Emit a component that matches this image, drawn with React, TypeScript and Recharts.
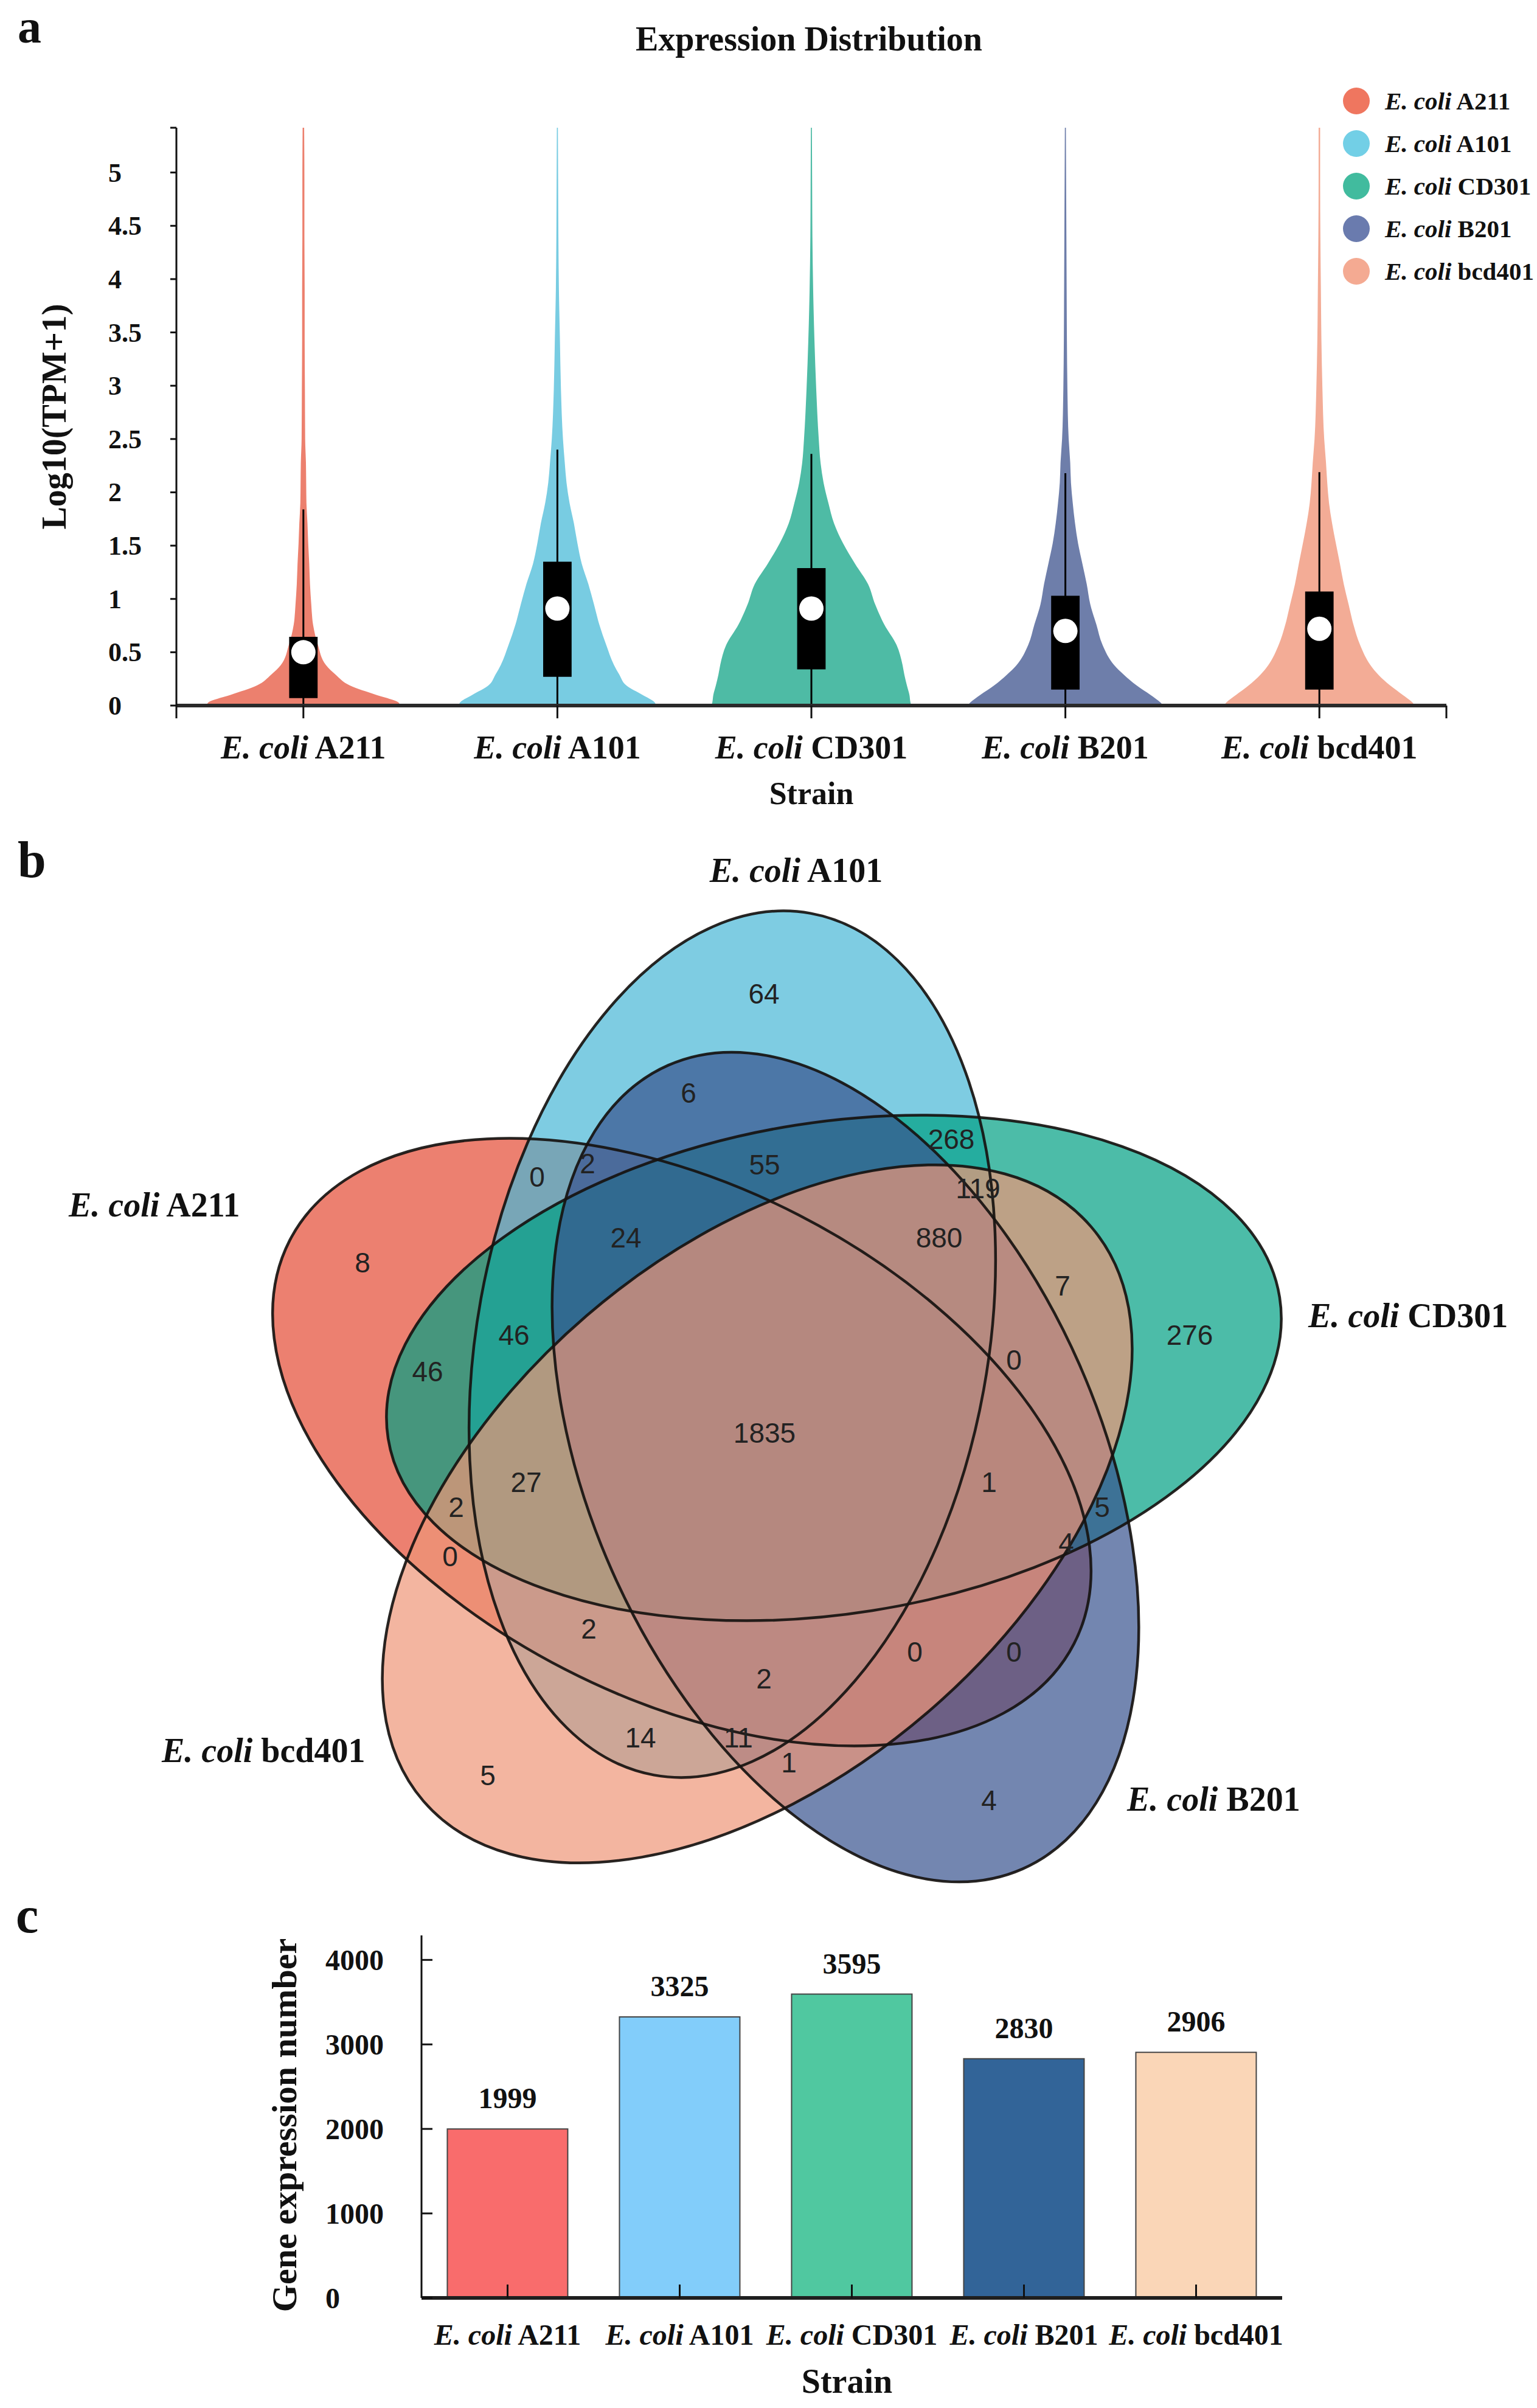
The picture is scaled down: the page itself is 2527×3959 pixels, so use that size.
import React from "react";
import {
  ComposedChart,
  Area,
  XAxis,
  YAxis,
  ReferenceArea,
  ReferenceLine,
  ReferenceDot,
  Legend,
  ScatterChart,
  Scatter,
  BarChart,
  Bar,
  Cell,
  LabelList,
} from "recharts";

const SERIF = "'Liberation Serif', 'Times New Roman', serif";
const SANS = "'Liberation Sans', Arial, sans-serif";
const INK = "#111";

const STRAINS = ["A211", "A101", "CD301", "B201", "bcd401"];

// a: violin half-width (in category units) at each Log10(TPM+1) level
const LEVELS = [0, 0.03, 0.1, 0.19, 0.29, 0.38, 0.57, 0.76, 0.95, 1.14, 1.33, 1.52, 1.71, 1.9, 2.09, 2.28, 2.5, 2.97, 3.43, 3.9, 4.4, 4.9, 5.42];
const DENS_A211 = [0.381, 0.374, 0.287, 0.182, 0.127, 0.089, 0.057, 0.038, 0.031, 0.026, 0.023, 0.019, 0.016, 0.012, 0.011, 0.01, 0.007, 0.006, 0.005, 0.005, 0.004, 0.004, 0.003];
const DENS_A101 = [0.388, 0.383, 0.335, 0.271, 0.244, 0.223, 0.192, 0.165, 0.144, 0.122, 0.096, 0.079, 0.065, 0.048, 0.036, 0.029, 0.022, 0.014, 0.01, 0.006, 0.004, 0.003, 0.002];
const DENS_CD301 = [0.393, 0.39, 0.386, 0.376, 0.366, 0.359, 0.335, 0.287, 0.251, 0.223, 0.172, 0.125, 0.089, 0.067, 0.048, 0.036, 0.029, 0.019, 0.012, 0.007, 0.004, 0.003, 0.002];
const DENS_B201 = [0.386, 0.374, 0.335, 0.28, 0.23, 0.192, 0.146, 0.122, 0.098, 0.084, 0.067, 0.05, 0.038, 0.029, 0.022, 0.019, 0.013, 0.008, 0.006, 0.005, 0.004, 0.003, 0.002];
const DENS_BCD401 = [0.376, 0.366, 0.328, 0.278, 0.232, 0.201, 0.16, 0.134, 0.115, 0.096, 0.081, 0.065, 0.05, 0.038, 0.031, 0.026, 0.019, 0.012, 0.008, 0.006, 0.004, 0.003, 0.003];

// a: box plot stats
const WHISKER_LO = [0, 0, 0, 0, 0];
const WHISKER_HI = [1.84, 2.4, 2.36, 2.18, 2.19];
const Q1 = [0.07, 0.27, 0.34, 0.15, 0.15];
const Q3 = [0.645, 1.35, 1.29, 1.03, 1.07];
const MEDIAN = [0.5, 0.91, 0.91, 0.7, 0.72];
const Y_TICKS_A = [0, 0.5, 1, 1.5, 2, 2.5, 3, 3.5, 4, 4.5, 5, 5.42];
const X_TICKS_A = [0, 0.5, 1.5, 2.5, 3.5, 4.5, 5];

// b: venn region counts
const VENN_COUNTS = [64, 6, 0, 2, 55, 268, 119, 24, 880, 8, 7, 46, 276, 0, 46, 1835, 27, 1, 2, 5, 4, 0, 2, 0, 0, 2, 14, 11, 1, 5, 4];

// c: expressed genes
const GENE_COUNTS = [1999, 3325, 3595, 2830, 2906];
const Y_TICKS_C = [0, 1000, 2000, 3000, 4000];

// colours
const VIOLIN_COLORS = ["#ec806e", "#78cce2", "#4ebba5", "#6e7eaa", "#f3ac96"];
const LEGEND_COLORS = ["#ef765f", "#72cfe6", "#41bb9e", "#6a7bae", "#f4aa92"];
const VENN_COLORS = ["#e44a33", "#47b6d6", "#009f83", "#38528e", "#ee9577"];
const BAR_COLORS = ["#f96c6c", "#82cdfa", "#50c8a0", "#326498", "#fad6b7"];

// venn layout, px from the diagram centre (y up)
const VENN_ELLIPSES = [
  { cx: -143, cy: -20, a: 725, b: 420, angle: 297.2 },
  { cx: -60, cy: 141, a: 720, b: 420, angle: 10.3 },
  { cx: 107, cy: 102, a: 742, b: 404, angle: 81 },
  { cx: 126, cy: -61, a: 722, b: 420, angle: 156.2 },
  { cx: -19, cy: -138, a: 724, b: 430, angle: 49.3 },
];
const VENN_COUNT_POS = [
  [-8, 717], [-132, 554], [-381, 416], [-298, 438], [-7, 436], [300, 478], [344, 397],
  [-235, 316], [280, 316], [-668, 275], [483, 237], [-419, 156], [692, 156], [403, 115],
  [-561, 96], [-7, -5], [-399, -86], [362, -86], [-514, -127], [548, -127], [489, -186],
  [-524, -208], [-296, -327], [240, -365], [403, -365], [-8, -409], [-211, -506],
  [-50, -506], [33, -547], [-462, -568], [362, -609],
];
const VENN_NAME_POS = [
  { x: -1151, y: 351, anchor: "start" },
  { x: 45, y: 901, anchor: "middle" },
  { x: 887, y: 169, anchor: "start" },
  { x: 589, y: -626, anchor: "start" },
  { x: -998, y: -546, anchor: "start" },
];

const DENS = [DENS_A211, DENS_A101, DENS_CD301, DENS_B201, DENS_BCD401];
const violinRows = LEVELS.map((v, k) => {
  const row: any = { v };
  STRAINS.forEach((s, i) => (row[s] = DENS[i][k]));
  return row;
});
const ellipseRows = VENN_ELLIPSES.map((e, i) => ({ x: e.cx, y: e.cy, i }));
const countRows = VENN_COUNTS.map((n, i) => ({ x: VENN_COUNT_POS[i][0], y: VENN_COUNT_POS[i][1], n }));
const nameRows = STRAINS.map((s, i) => ({ x: VENN_NAME_POS[i].x, y: VENN_NAME_POS[i].y, s, i }));
const barRows = STRAINS.map((s, i) => ({ strain: s, count: GENE_COUNTS[i] }));

const BOX_HALF = 0.056;

const StrainName = ({ name }: { name: string }) => (
  <>
    <tspan fontStyle="italic">E. coli</tspan> {name}
  </>
);

const ViolinTick = (p: any) => {
  const i = p.payload.value - 0.5;
  const named = Number.isInteger(i);
  return (
    <g>
      <line x1={p.x} x2={p.x} y1={p.y} y2={p.y + 21} stroke={INK} strokeWidth={3} />
      {named && (
        <text x={p.x} y={p.y + 87} textAnchor="middle" fontFamily={SERIF} fontWeight={700} fontSize={54} fill={INK}>
          <StrainName name={STRAINS[i]} />
        </text>
      )}
    </g>
  );
};

const ViolinYTick = (p: any) => (
  <g>
    <line x1={p.x} x2={p.x - 10} y1={p.y} y2={p.y} stroke={INK} strokeWidth={3} />
    {p.payload.value <= 5 && (
      <text x={p.x - 112} y={p.y} dy={15} textAnchor="start" fontFamily={SERIF} fontWeight={700} fontSize={44} fill={INK}>
        {p.payload.value}
      </text>
    )}
  </g>
);

const BarTick = (p: any) => (
  <g>
    <line x1={p.x} x2={p.x} y1={p.y} y2={p.y - 22} stroke={INK} strokeWidth={3} />
    <text x={p.x} y={p.y + 77} textAnchor="middle" fontFamily={SERIF} fontWeight={700} fontSize={48} fill={INK}>
      <StrainName name={p.payload.value} />
    </text>
  </g>
);

const BarYTick = (p: any) => (
  <g>
    <line x1={p.x} x2={p.x + 18} y1={p.y} y2={p.y} stroke={INK} strokeWidth={3} />
    <text x={p.x - 158} y={p.y} dy={17} textAnchor="start" fontFamily={SERIF} fontWeight={700} fontSize={48} fill={INK}>
      {p.payload.value}
    </text>
  </g>
);

const renderLegend = () => (
  <div style={{ fontFamily: SERIF, fontWeight: 700, fontSize: 41, color: INK }}>
    {STRAINS.map((s, i) => (
      <div key={s} style={{ display: "flex", alignItems: "center", height: 70 }}>
        <span
          style={{
            display: "inline-block",
            width: 44,
            height: 44,
            borderRadius: "50%",
            background: LEGEND_COLORS[i],
            marginRight: 25,
          }}
        />
        <span>
          <i>E. coli</i> {s}
        </span>
      </div>
    ))}
  </div>
);

const renderEllipseFill = (p: any) => {
  const e = VENN_ELLIPSES[p.payload.i];
  return (
    <ellipse
      cx={p.cx}
      cy={p.cy}
      rx={e.b}
      ry={e.a}
      transform={`rotate(${e.angle} ${p.cx} ${p.cy})`}
      fill={VENN_COLORS[p.payload.i]}
      fillOpacity={0.7}
      stroke="none"
    />
  );
};

const renderEllipseLine = (p: any) => {
  const e = VENN_ELLIPSES[p.payload.i];
  return (
    <ellipse
      cx={p.cx}
      cy={p.cy}
      rx={e.b}
      ry={e.a}
      transform={`rotate(${e.angle} ${p.cx} ${p.cy})`}
      fill="none"
      stroke="#161210"
      strokeOpacity={0.92}
      strokeWidth={4.5}
    />
  );
};

const renderCount = (p: any) => (
  <text x={p.cx} y={p.cy} textAnchor="middle" dominantBaseline="central" fontFamily={SANS} fontSize={46} fill="#222">
    {p.payload.n}
  </text>
);

const renderName = (p: any) => (
  <text
    x={p.cx}
    y={p.cy}
    textAnchor={VENN_NAME_POS[p.payload.i].anchor as any}
    fontFamily={SERIF}
    fontWeight={700}
    fontSize={56}
    fill={INK}
  >
    <StrainName name={p.payload.s} />
  </text>
);

export default function App() {
  return (
    <div style={{ position: "absolute", left: 0, top: 0, width: 2527, height: 3959, background: "#fff", overflow: "hidden" }}>
      {/* a: expression distribution */}
      <div style={{ position: "absolute", left: 0, top: 0 }}>
        <ComposedChart
          layout="vertical"
          width={2527}
          height={1360}
          data={violinRows}
          margin={{ top: 210, right: 149, bottom: 0, left: 90 }}
        >
          {STRAINS.map((s, i) => (
            <Area
              key={s}
              name={s}
              dataKey={(r: any) => [i + 0.5 - r[s], i + 0.5 + r[s]]}
              type="monotone"
              fill={VIOLIN_COLORS[i]}
              fillOpacity={1}
              stroke="none"
              isAnimationActive={false}
            />
          ))}
          {STRAINS.map((s, i) => (
            <ReferenceLine
              key={"w" + s}
              segment={[
                { x: i + 0.5, y: WHISKER_LO[i] },
                { x: i + 0.5, y: WHISKER_HI[i] },
              ]}
              stroke="#000"
              strokeWidth={3}
            />
          ))}
          {STRAINS.map((s, i) => (
            <ReferenceArea
              key={"b" + s}
              x1={i + 0.5 - BOX_HALF}
              x2={i + 0.5 + BOX_HALF}
              y1={Q1[i]}
              y2={Q3[i]}
              fill="#000"
              fillOpacity={1}
              stroke="none"
            />
          ))}
          {STRAINS.map((s, i) => (
            <ReferenceDot key={"m" + s} x={i + 0.5} y={MEDIAN[i]} r={20} fill="#fff" stroke="none" />
          ))}
          <XAxis
            type="number"
            domain={[0, 5]}
            allowDataOverflow
            ticks={X_TICKS_A}
            interval={0}
            height={200}
            axisLine={{ stroke: "#2a2a2a", strokeWidth: 6 }}
            tickLine={false}
            tickSize={0}
            tickMargin={0}
            tick={(p: any) => <ViolinTick {...p} />}
            label={{
              content: ({ viewBox }: any) => (
                <text x={viewBox.x + viewBox.width / 2} y={viewBox.y + 162} textAnchor="middle" fontFamily={SERIF} fontWeight={700} fontSize={52} fill={INK}>
                  Strain
                </text>
              ),
            }}
          />
          <YAxis
            type="number"
            dataKey="v"
            reversed
            domain={[0, 5.42]}
            allowDataOverflow
            ticks={Y_TICKS_A}
            interval={0}
            width={200}
            axisLine={{ stroke: INK, strokeWidth: 3 }}
            tickLine={false}
            tickSize={0}
            tickMargin={0}
            tick={(p: any) => <ViolinYTick {...p} />}
            label={{
              content: ({ viewBox }: any) => {
                const cx = viewBox.x - 1;
                const cy = viewBox.y + viewBox.height / 2;
                return (
                  <text x={cx} y={cy} transform={`rotate(-90 ${cx} ${cy})`} textAnchor="middle" dominantBaseline="central" fontFamily={SERIF} fontWeight={700} fontSize={56} fill={INK}>
                    Log10(TPM+1)
                  </text>
                );
              },
            }}
          />
          <Legend
            content={renderLegend}
            layout="horizontal"
            verticalAlign="middle"
            align="center"
            wrapperStyle={{ position: "absolute", left: 2208, top: 131, width: 319, height: 350 }}
          />
        </ComposedChart>
      </div>

      {/* b: venn */}
      <div style={{ position: "absolute", left: 0, top: 1350 }}>
        <ScatterChart width={2527} height={1780} margin={{ top: 0, right: 0, bottom: 0, left: 0 }}>
          <XAxis type="number" dataKey="x" domain={[-1264, 1263]} allowDataOverflow hide />
          <YAxis type="number" dataKey="y" domain={[-779, 1001]} allowDataOverflow hide />
          <Scatter data={ellipseRows} shape={renderEllipseFill} isAnimationActive={false} />
          <Scatter data={ellipseRows} shape={renderEllipseLine} isAnimationActive={false} />
          <Scatter data={countRows} shape={renderCount} isAnimationActive={false} />
          <Scatter data={nameRows} shape={renderName} isAnimationActive={false} />
        </ScatterChart>
      </div>

      {/* c: gene counts */}
      <div style={{ position: "absolute", left: 0, top: 3100 }}>
        <BarChart
          width={2527}
          height={859}
          data={barRows}
          margin={{ top: 82, right: 419, bottom: 0, left: 443 }}
          barCategoryGap="15%"
        >
          <Bar dataKey="count" stroke="#444" strokeWidth={2} isAnimationActive={false}>
            {BAR_COLORS.map((c, i) => (
              <Cell key={i} fill={c} />
            ))}
            <LabelList dataKey="count" position="top" offset={34} fontFamily={SERIF} fontWeight={700} fontSize={48} fill={INK} />
          </Bar>
          <XAxis
            dataKey="strain"
            height={181}
            interval={0}
            axisLine={{ stroke: "#1f1f1f", strokeWidth: 6 }}
            tickLine={false}
            tickSize={0}
            tickMargin={0}
            tick={(p: any) => <BarTick {...p} />}
            label={{
              content: ({ viewBox }: any) => (
                <text x={viewBox.x + viewBox.width / 2 - 8} y={viewBox.y + 156} textAnchor="middle" fontFamily={SERIF} fontWeight={700} fontSize={56} fill={INK}>
                  Strain
                </text>
              ),
            }}
          />
          <YAxis
            domain={[0, 4290]}
            allowDataOverflow
            ticks={Y_TICKS_C}
            interval={0}
            width={250}
            axisLine={{ stroke: INK, strokeWidth: 3 }}
            tickLine={false}
            tickSize={0}
            tickMargin={0}
            tick={(p: any) => <BarYTick {...p} />}
            label={{
              content: ({ viewBox }: any) => {
                const cx = viewBox.x + 24;
                const cy = viewBox.y + viewBox.height / 2 + 14;
                return (
                  <text x={cx} y={cy} transform={`rotate(-90 ${cx} ${cy})`} textAnchor="middle" dominantBaseline="central" fontFamily={SERIF} fontWeight={700} fontSize={58} fill={INK}>
                    Gene expression number
                  </text>
                );
              },
            }}
          />
        </BarChart>
      </div>

      {/* panel letters and title */}
      <svg width={2527} height={3959} style={{ position: "absolute", left: 0, top: 0, pointerEvents: "none" }}>
        <g fontFamily={SERIF} fontWeight={700} fill={INK}>
          <text x={29} y={70} fontSize={78}>a</text>
          <text x={29} y={1442} fontSize={84}>b</text>
          <text x={26} y={3177} fontSize={84}>c</text>
          <text x={1330} y={83} fontSize={56} textAnchor="middle">Expression Distribution</text>
        </g>
      </svg>
    </div>
  );
}
